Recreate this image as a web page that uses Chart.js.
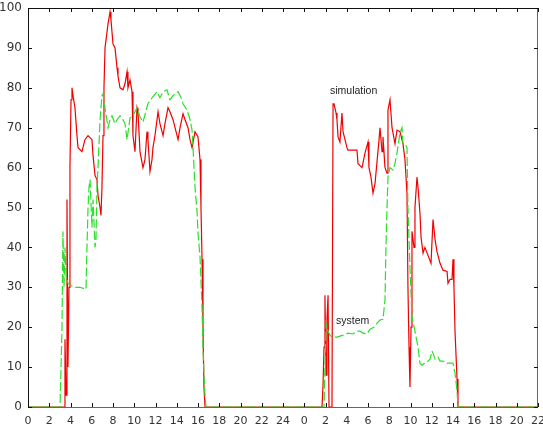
<!DOCTYPE html>
<html>
<head>
<meta charset="utf-8">
<script src="https://cdn.jsdelivr.net/npm/chart.js@4.4.0/dist/chart.umd.min.js"></script>
<style>
  body { margin: 0; background: #fff; }
  #wrap { width: 543px; height: 434px; }
</style>
</head>
<body>
<div id="wrap"><canvas id="myChart" width="543" height="434"></canvas></div>
<script>
// hours run 0..48 over two days; second day ticks are labelled from 0 again
var yTicks = [0, 10, 20, 30, 40, 50, 60, 70, 80, 90, 100];

var simHours = [0, 3.29, 3.39, 3.48, 3.58, 3.67, 3.76, 3.86, 3.95, 4.05, 4.14, 4.24, 4.42, 4.61, 4.71, 5.08, 5.36, 5.65, 6.02, 6.12,
  6.31, 6.49, 6.59, 6.78, 6.87, 6.96, 7.06, 7.15, 7.25, 7.44, 7.53, 7.72, 7.81, 8.00, 8.19, 8.38, 8.47, 8.66, 8.94, 9.13,
  9.32, 9.41, 9.60, 9.79, 9.88, 10.07, 10.26, 10.35, 10.54, 10.82, 11.01, 11.20, 11.29, 11.48, 11.67, 11.76, 11.95, 12.24, 12.42, 12.71,
  12.89, 13.18, 13.36, 13.65, 13.84, 14.12, 14.31, 14.59, 14.78, 15.06, 15.25, 15.44, 15.72, 16.00, 16.19, 16.28, 16.38, 16.47, 16.56, 16.66,
  27.67, 27.76, 27.86, 27.95, 28.05, 28.14, 28.24, 28.33, 28.61, 28.71, 28.80, 28.99, 29.08, 29.18, 29.36, 29.55, 29.65, 30.02, 30.12, 30.49,
  30.96, 31.06, 31.44, 31.72, 32.00, 32.09, 32.28, 32.47, 32.66, 33.04, 33.13, 33.32, 33.41, 33.60, 33.79, 33.88, 34.07, 34.26, 34.54, 34.73,
  35.01, 35.29, 35.48, 35.67, 35.76, 35.86, 35.95, 36.05, 36.14, 36.33, 36.42, 36.61, 36.71, 36.89, 36.99, 37.18, 37.36, 37.65, 37.93, 38.12,
  38.31, 38.49, 38.78, 39.06, 39.44, 39.53, 39.72, 39.91, 40.00, 40.09, 40.19, 40.38, 40.47, 48];
var simValues = [0, 0, 0, 17, 3, 52, 10, 30, 60, 77, 80, 78, 75, 68, 65, 64, 67, 68, 67, 63,
  58, 57, 53, 50, 48, 55, 68, 80, 90, 94, 96, 99, 97, 91, 90, 85, 83, 80, 79.5, 81,
  84, 80, 82, 79, 68, 64, 75, 74, 64, 60, 62, 69, 67, 59, 62, 65, 68, 74, 71, 68,
  71, 75, 74, 72, 70, 67, 70, 73.5, 72, 70, 67, 65, 69, 67.7, 62, 50, 37, 20, 5, 0,
  0, 5, 15, 28, 8, 22, 28, 0, 0, 76, 76, 73.7, 72, 67.7, 66.4, 73.7, 69, 65, 64.4, 64.4,
  64.4, 61, 60, 63.7, 66.4, 60, 57.6, 53.6, 56, 67, 70, 64, 67.7, 60, 58.6, 74.4, 77, 70, 66, 69.4,
  69, 66, 62, 53.6, 30, 15, 5, 20, 44, 40, 50, 57.6, 55, 48.6, 42.6, 38.6, 40, 38, 36, 47,
  42, 39, 36, 34.3, 34, 31, 32, 32, 37, 30, 19, 7, 0, 0];

var sysHours = [0, 3.01, 3.11, 3.20, 3.29, 3.39, 3.48, 3.58, 3.76, 3.95, 4.42, 4.89, 5.46, 5.55, 5.65, 5.74, 5.84, 6.02, 6.12, 6.31,
  6.40, 6.49, 6.59, 6.78, 6.96, 7.06, 7.25, 7.53, 7.72, 7.91, 8.19, 8.38, 8.66, 8.94, 9.13, 9.32, 9.60, 9.88, 10.26, 10.54,
  10.82, 11.29, 11.67, 12.14, 12.42, 12.71, 13.08, 13.36, 13.65, 14.12, 14.50, 14.59, 14.97, 15.25, 15.44, 15.53, 15.72, 15.91, 16.00, 16.19,
  16.38, 16.47, 16.56, 16.66, 16.75,
  27.86, 27.95, 28.05, 28.24, 28.42, 28.61, 29.08, 29.65, 30.12, 30.59, 30.96, 31.25, 31.53, 31.91, 32.19, 32.56, 32.85, 33.13, 33.41, 33.60,
  33.69, 33.79, 33.88, 34.07, 34.35, 34.54, 34.73, 35.01, 35.20, 35.29, 35.48, 35.67, 35.76, 35.86, 35.95, 36.14, 36.42, 36.71, 36.89, 37.08,
  37.36, 37.65, 37.84, 38.02, 38.12, 38.31, 38.59, 38.78, 39.06, 39.44, 39.72, 40.00, 40.19, 40.38, 40.47, 48];
var sysValues = [0, 0, 10, 20, 44, 30, 40, 33, 31, 30.5, 30, 30, 29.5, 40, 50, 55, 57, 45, 52, 40,
  42, 55, 60, 72, 78, 78.5, 75, 70, 72, 73, 71, 72, 73, 72, 71, 67, 72.4, 73, 75, 72.7,
  71.4, 76, 77.5, 79, 77.5, 79, 79.5, 77, 78, 79, 77, 76, 74.4, 72, 69.4, 65, 55, 49, 43.6, 37.6,
  25, 15, 8, 3, 0,
  0, 10, 21, 19, 18, 17.5, 17.5, 18, 18.5, 18.3, 19, 19, 18.5, 18.3, 19.5, 20, 21, 21.8, 22, 26.8,
  40, 50, 57.6, 60, 59.4, 61, 63.7, 68.7, 70, 66, 66, 65, 50, 42, 35, 22.6, 19, 15, 11, 10.5,
  11, 11.5, 12, 14, 13.5, 12, 12.5, 11.5, 11.5, 11, 11, 11, 8.5, 4, 0, 0];

function zip(hs, vs) {
    var out = [];
    for (let i = 0; i < hs.length; i++) {
        out.push({ x: hs[i], y: vs[i] });
    }
    return out;
}

function hourLabel(v) {
    return v <= 24 ? String(v) : String(v - 26);
}

// frame with inward tick marks (gnuplot look) + the two curve captions
var framePlugin = {
    id: 'frame',
    beforeDraw: function (chart) {
        var c = chart.ctx;
        c.save();
        c.fillStyle = '#fff';
        c.fillRect(0, 0, chart.width, chart.height);
        c.restore();
    },
    afterDraw: function (chart) {
        var c = chart.ctx, a = chart.chartArea;
        var xs = chart.scales.x, ys = chart.scales.y;
        c.save();
        c.lineWidth = 1;
        c.strokeStyle = '#111';
        c.beginPath();
        c.moveTo(a.left + 0.5, a.bottom); c.lineTo(a.left + 0.5, a.top + 0.5); c.lineTo(a.right, a.top + 0.5);
        c.stroke();
        c.strokeStyle = '#666';
        c.beginPath();
        c.moveTo(a.left, a.bottom + 0.5); c.lineTo(a.right - 0.5, a.bottom + 0.5); c.lineTo(a.right - 0.5, a.top);
        c.stroke();
        c.strokeStyle = '#111';
        c.beginPath();
        xs.ticks.forEach(function (t) {
            var px = Math.round(xs.getPixelForValue(t.value)) + 0.5;
            c.moveTo(px, a.bottom); c.lineTo(px, a.bottom - 4);
            c.moveTo(px, a.top); c.lineTo(px, a.top + 4);
        });
        ys.ticks.forEach(function (t) {
            var py = Math.round(ys.getPixelForValue(t.value)) + 0.5;
            c.moveTo(a.left, py); c.lineTo(a.left + 4, py);
            c.moveTo(a.right, py); c.lineTo(a.right - 4, py);
        });
        c.stroke();

        c.fillStyle = '#222';
        c.font = '10.5px "Liberation Sans", Arial, sans-serif';
        c.textAlign = 'left';
        c.textBaseline = 'middle';
        c.fillText('simulation', xs.getPixelForValue(28.42), ys.getPixelForValue(79.2));
        c.fillText('system', xs.getPixelForValue(28.99), ys.getPixelForValue(21.5));
        c.restore();
    }
};

const ctx = document.getElementById('myChart').getContext('2d');
const myChart = new Chart(ctx, {
    type: 'scatter',
    data: {
        datasets: [{
            label: 'system',
            data: zip(sysHours, sysValues),
            showLine: true,
            borderColor: 'rgb(40,225,40)',
            borderWidth: 1.2,
            borderDash: [9, 3],
            pointRadius: 0,
            tension: 0
        }, {
            label: 'simulation',
            data: zip(simHours, simValues),
            showLine: true,
            borderColor: 'rgb(240,0,0)',
            borderWidth: 1.2,
            pointRadius: 0,
            tension: 0
        }]
    },
    options: {
        responsive: false,
        animation: false,
        layout: { padding: { top: 8, right: 5, left: 0, bottom: 0 } },
        plugins: {
            legend: { display: false },
            tooltip: { enabled: false }
        },
        scales: {
            x: {
                type: 'linear',
                min: 0,
                max: 48,
                grid: { display: false },
                border: { display: false },
                ticks: {
                    stepSize: 2,
                    autoSkip: false,
                    maxRotation: 0,
                    padding: 0,
                    color: '#333',
                    font: { family: '"DejaVu Sans", sans-serif', size: 11 },
                    callback: function (v) { return hourLabel(v); }
                },
                afterFit: function (s) { s.height = 27; s.paddingLeft = 0; s.paddingRight = 0; }
            },
            y: {
                min: 0,
                max: 100,
                grid: { display: false },
                border: { display: false },
                afterBuildTicks: function (s) { s.ticks = yTicks.map(function (v) { return { value: v }; }); },
                ticks: {
                    padding: -2,
                    color: '#333',
                    font: { family: '"DejaVu Sans", sans-serif', size: 12 }
                },
                afterFit: function (s) { s.width = 28; s.paddingTop = 0; s.paddingBottom = 0; }
            }
        }
    },
    plugins: [framePlugin]
});
</script>
</body>
</html>
